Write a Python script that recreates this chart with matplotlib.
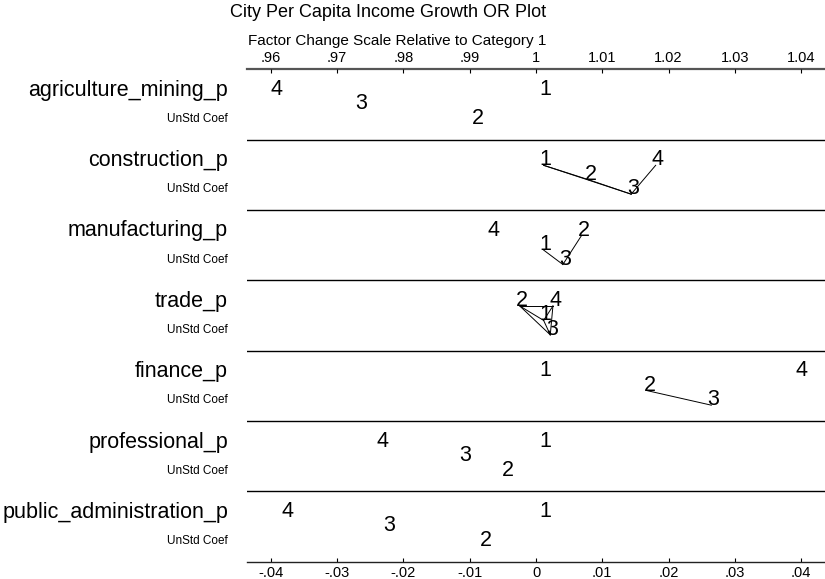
import matplotlib
matplotlib.use("Agg")
import matplotlib.pyplot as plt
from matplotlib.transforms import offset_copy
from itertools import combinations

plt.rcParams['font.family'] = ['Liberation Sans', 'DejaVu Sans']

variables = ['agriculture_mining_p', 'construction_p', 'manufacturing_p', 'trade_p',
             'finance_p', 'professional_p', 'public_administration_p']
categories = [1, 2, 3, 4]

# unstandardized coefficients relative to category 1
coef_cat1 = [0.0, 0.0, 0.0, 0.0, 0.0, 0.0, 0.0]
coef_cat2 = [-0.0103, 0.0068, 0.0057, -0.0036, 0.0157, -0.0057, -0.0091]
coef_cat3 = [-0.0279, 0.0132, 0.0029, 0.0010, 0.0253, -0.0121, -0.0236]
coef_cat4 = [-0.0406, 0.0169, -0.0079, 0.0014, 0.0386, -0.0247, -0.0390]

# pairs of categories joined by a line (not significantly different)
links = [
    [],
    [(1, 2), (2, 3), (1, 3), (3, 4)],
    [(1, 3), (3, 2)],
    list(combinations(categories, 2)),
    [(2, 3)],
    [],
    [],
]

bottom_ticks = [-0.04, -0.03, -0.02, -0.01, 0, 0.01, 0.02, 0.03, 0.04]
bottom_labels = ['-.04', '-.03', '-.02', '-.01', '0', '.01', '.02', '.03', '.04']
top_labels = ['.96', '.97', '.98', '.99', '1', '1.01', '1.02', '1.03', '1.04']

coefs = [coef_cat1, coef_cat2, coef_cat3, coef_cat4]
row_y = [0.365, 0.57, 0.775]

fig = plt.figure(figsize=(8.25, 5.79), dpi=100)
ax = fig.add_axes([0.2994, 0.0299, 0.7006, 0.8504])
ax.set_xlim(-0.0436, 0.0436)
ax.set_ylim(7, 0)

line_tr = offset_copy(ax.transData, fig=fig, x=5.5, y=0, units='points')
text_tr = offset_copy(ax.transData, fig=fig, x=7.0, y=0, units='points')

for i, var in enumerate(variables):
    vals = {c: coefs[k][i] for k, c in enumerate(categories)}
    # stagger the digits over three rows in order of value
    order = sorted(categories, key=lambda c: vals[c])
    ypos = {c: i + row_y[r % 3] for r, c in enumerate(order)}

    for a, b in links[i]:
        ax.plot([vals[a], vals[b]], [ypos[a], ypos[b]], color='black', lw=0.7,
                transform=line_tr, clip_on=False)
    for c in categories:
        ax.text(vals[c], ypos[c], str(c), transform=text_tr, ha='center',
                va='baseline', fontsize=15.5)

    fig.text(0.2764, 1 - (69.3 + 70.34 * i + 26.5) / 579, var, ha='right',
             va='baseline', fontsize=15.5)
    fig.text(0.2764, 1 - (69.3 + 70.34 * i + 52.8) / 579, 'UnStd Coef', ha='right',
             va='baseline', fontsize=8.5)

    if i > 0:
        ax.axhline(i, color='black', lw=1.0)

for side in ['left', 'right']:
    ax.spines[side].set_visible(False)
ax.spines['top'].set_color('#555555')
ax.spines['top'].set_linewidth(1.6)
ax.spines['bottom'].set_color('#222222')
ax.spines['bottom'].set_linewidth(1.0)
ax.set_yticks([])
ax.set_xticks(bottom_ticks)
ax.set_xticklabels(bottom_labels)
ax.tick_params(axis='x', direction='in', length=3, pad=3, labelsize=10.5)

top = ax.twiny()
top.set_xlim(ax.get_xlim())
for s in top.spines.values():
    s.set_visible(False)
top.set_xticks(bottom_ticks)
top.set_xticklabels(top_labels)
top.tick_params(axis='x', direction='in', length=3, pad=3, labelsize=10.5)

fig.text(0.2788, 1 - 17 / 579, 'City Per Capita Income Growth OR Plot', ha='left',
         va='baseline', fontsize=13)
fig.text(0.3000, 1 - 45 / 579, 'Factor Change Scale Relative to Category 1', ha='left',
         va='baseline', fontsize=11)

fig.savefig('out.png', dpi=100)
